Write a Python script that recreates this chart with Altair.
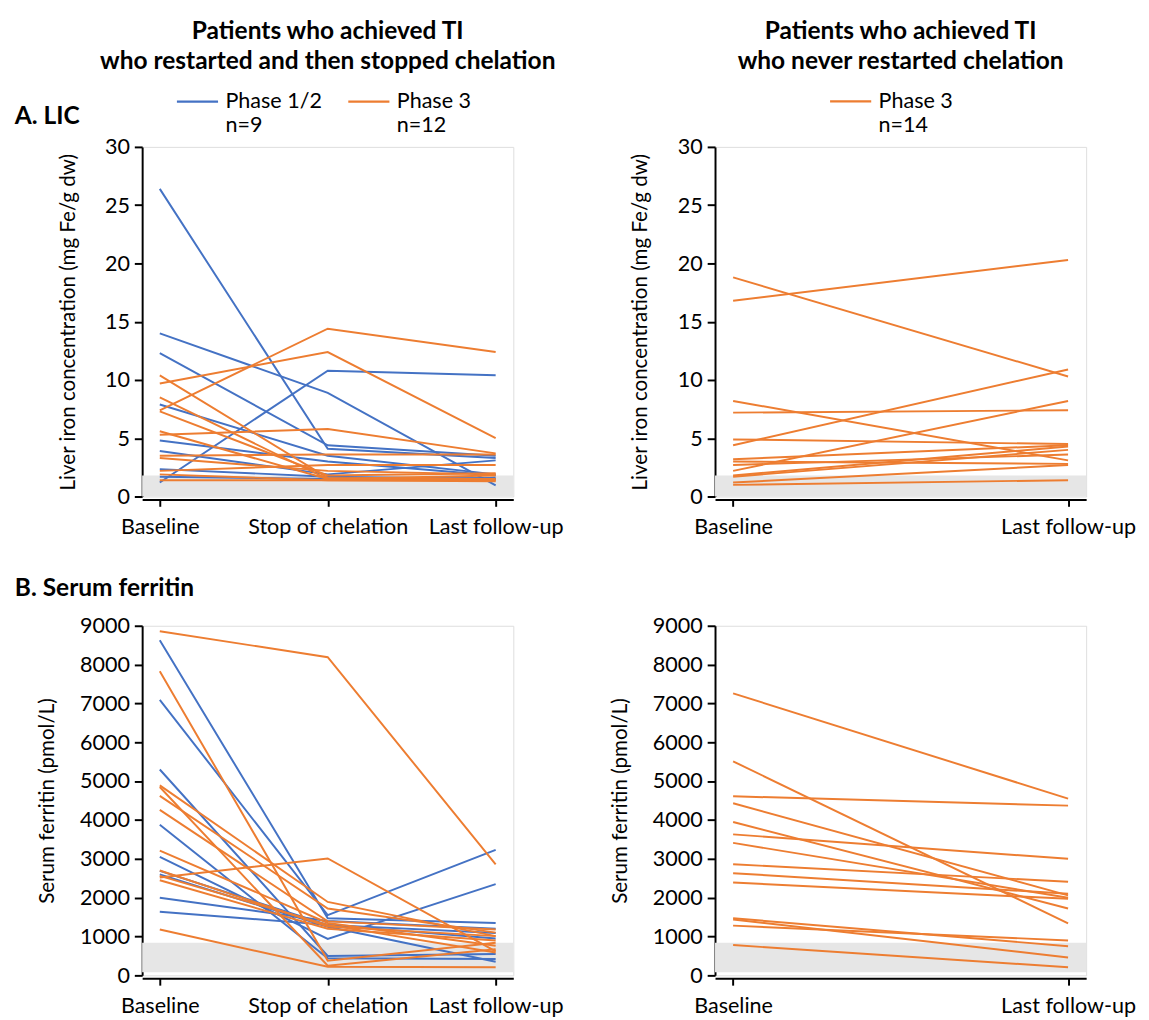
import altair as alt
import pandas as pd

FONT = "Lato"
BLUE = "#4472C4"
ORANGE = "#ED7D31"
BAND_COLOR = "#E6E6E6"

PHASES = ["Phase 1/2", "Phase 3"]
TP3 = ["Baseline", "Stop of chelation", "Last follow-up"]
TP2 = ["Baseline", "Last follow-up"]

HEAD_LEFT = ["Patients who achieved TI", "who restarted and then stopped chelation"]
HEAD_RIGHT = ["Patients who achieved TI", "who never restarted chelation"]
SECTION_A = "A.  LIC"
SECTION_B = "B. Serum ferritin"
LIC_TITLE = "Liver iron concentration (mg Fe/g dw)"
SF_TITLE = "Serum ferritin (pmol/L)"

# ---- A. LIC (mg Fe/g dw) ----
lic_restart_p12 = [
    [26.4, 4.1, 3.3],
    [14.0, 8.9, 0.95],
    [12.3, 4.4, 3.5],
    [1.2, 10.8, 10.4],
    [7.9, 3.5, 1.9],
    [4.8, 3.0, 1.8],
    [3.9, 1.9, 3.1],
    [2.35, 1.7, 1.5],
    [1.7, 1.5, 1.6],
]
lic_restart_p3 = [
    [10.4, 1.6, 1.5],
    [9.7, 12.4, 5.0],
    [8.5, 1.5, 1.4],
    [7.4, 14.4, 12.4],
    [7.3, 1.8, 2.0],
    [5.6, 1.5, 1.8],
    [5.3, 5.8, 3.7],
    [3.5, 3.6, 3.6],
    [3.3, 2.2, 1.9],
    [2.2, 2.7, 2.7],
    [1.9, 1.4, 1.4],
    [1.4, 1.4, 1.3],
]
lic_never_p3 = [
    [16.8, 20.3],
    [18.8, 10.3],
    [4.4, 10.9],
    [8.2, 3.1],
    [7.2, 7.4],
    [2.2, 8.2],
    [4.9, 4.5],
    [3.2, 4.4],
    [3.0, 2.8],
    [2.7, 3.6],
    [1.8, 4.3],
    [1.7, 4.0],
    [1.2, 2.7],
    [1.0, 1.4],
]

# ---- B. Serum ferritin (pmol/L) ----
sf_restart_p12 = [
    [8630, 1470, 1350],
    [7090, 1550, 3230],
    [5300, 500, 550],
    [3880, 440, 420],
    [3050, 940, 2350],
    [2690, 1300, 1090],
    [2600, 1250, 350],
    [2000, 1400, 1200],
    [1640, 1300, 950],
]
sf_restart_p3 = [
    [8860, 8190, 2860],
    [7830, 380, 840],
    [4890, 1890, 1010],
    [4850, 250, 670],
    [4620, 1720, 1100],
    [4260, 1390, 1180],
    [3210, 1350, 760],
    [2700, 1260, 1010],
    [2560, 1300, 590],
    [2520, 3010, 620],
    [2450, 1200, 900],
    [1180, 220, 210],
]
sf_never_p3 = [
    [7260, 4550],
    [5510, 1340],
    [4610, 4370],
    [4430, 2060],
    [3950, 1720],
    [3630, 3000],
    [3410, 2000],
    [2860, 2410],
    [2630, 2100],
    [2390, 1970],
    [1470, 750],
    [1440, 460],
    [1280, 900],
    [780, 210],
]

LIC_NORMAL = [0, 1.8]
SF_NORMAL = [80, 840]
LIC_TICKS = [0, 5, 10, 15, 20, 25, 30]
SF_TICKS = [0, 1000, 2000, 3000, 4000, 5000, 6000, 7000, 8000, 9000]

W, H = 379, 357


def long_df(groups, tps):
    recs = []
    for phase, rows in groups:
        for i, r in enumerate(rows):
            for j, (t, v) in enumerate(zip(tps, r)):
                recs.append({"patient": f"{phase}-{i}", "timepoint": t,
                             "t_idx": j, "value": v, "phase": phase})
    return pd.DataFrame(recs)


def panel(groups, tps, pad, ticks, band, ytitle, title_pad, legend, title=None,
          section=None, section_y=-31):
    df = long_df(groups, tps)
    phases = [g[0] for g in groups]
    colors = [BLUE if p == "Phase 1/2" else ORANGE for p in phases]
    yscale = alt.Scale(domain=[ticks[0], ticks[-1]], nice=False, zero=True)
    yaxis = alt.Axis(values=ticks, format="d", grid=False, tickSize=8, tickWidth=2,
                     tickColor="black", domainColor="black", domainWidth=2,
                     labelFont=FONT, labelFontSize=22, labelColor="black", labelPadding=5,
                     titleFont=FONT, titleFontSize=21, titleFontWeight="normal",
                     titleColor="black", titlePadding=title_pad)
    xaxis = alt.Axis(title=None, labelAngle=0, grid=False, offset=3, tickSize=7, tickWidth=2,
                     tickColor="black", domainColor="black", domainWidth=2,
                     labelFont=FONT, labelFontSize=22, labelColor="black", labelPadding=11)
    band_df = pd.DataFrame({"lo": [band[0]], "hi": [band[1]]})
    band_layer = alt.Chart(band_df).mark_rect(color=BAND_COLOR).encode(
        x=alt.value(0), x2=alt.value(W),
        y=alt.Y("lo:Q", scale=yscale, axis=yaxis, title=ytitle),
        y2="hi:Q",
    )
    if legend:
        n_expr = " : ".join(
            f"datum.label == '{p}' ? ['{p}', 'n={len(rows)}']" for p, rows in groups
        ) + " : datum.label"
        leg = alt.Legend(title=None, orient="none", legendX=legend[0], legendY=legend[1],
                         direction="horizontal", symbolType="stroke", symbolSize=1764,
                         symbolStrokeWidth=2.5, labelFont=FONT, labelFontSize=22,
                         labelColor="black", labelExpr=n_expr, labelBaseline="middle",
                         labelOffset=6, labelLimit=200, columnPadding=21, padding=0)
    else:
        leg = None
    lines = alt.Chart(df).mark_line(strokeWidth=2).encode(
        x=alt.X("timepoint:N", sort=tps,
                scale=alt.Scale(type="point", domain=tps, padding=pad), axis=xaxis),
        y=alt.Y("value:Q", scale=yscale, axis=yaxis, title=ytitle),
        detail="patient:N",
        color=alt.Color("phase:N", scale=alt.Scale(domain=phases, range=colors), legend=leg),
        order="t_idx:Q",
    )
    layers = [band_layer, lines]
    if section:
        txt = alt.Chart(pd.DataFrame({"label": [section]})).mark_text(
            align="left", baseline="middle", font=FONT, fontSize=25, fontWeight="bold",
            color="black").encode(text="label:N", x=alt.value(-130), y=alt.value(section_y))
        layers.append(txt)
    ch = alt.layer(*layers).properties(width=W, height=H)
    if title:
        ch = ch.properties(title=alt.TitleParams(
            text=title, font=FONT, fontSize=25, fontWeight="bold", color="black",
            anchor="middle", frame="group", offset=6, lineHeight=30))
    return ch


tl = panel([("Phase 1/2", lic_restart_p12), ("Phase 3", lic_restart_p3)], TP3, 0.105,
           LIC_TICKS, LIC_NORMAL, LIC_TITLE, 27, legend=(34, -69), title=HEAD_LEFT,
           section=SECTION_A, section_y=-31)
tr = panel([("Phase 3", lic_never_p3)], TP2, 0.054, LIC_TICKS, LIC_NORMAL, LIC_TITLE, 27,
           legend=(116, -69), title=HEAD_RIGHT)
bl = panel([("Phase 1/2", sf_restart_p12), ("Phase 3", sf_restart_p3)], TP3, 0.105,
           SF_TICKS, SF_NORMAL, SF_TITLE, 22, legend=None, section=SECTION_B, section_y=-38)
br = panel([("Phase 3", sf_never_p3)], TP2, 0.054, SF_TICKS, SF_NORMAL, SF_TITLE, 22,
           legend=None)

chart = alt.concat(tl, tr, bl, br, columns=2, spacing={"row": 38, "column": 46}).resolve_scale(
    x="independent", y="independent", color="independent"
).resolve_legend(color="independent").properties(
    padding={"left": 6, "top": 0, "right": 5, "bottom": 5}
).configure_view(stroke=None).configure(background="white")

chart.save("out.html", embed_options={"renderer": "svg", "actions": False})
